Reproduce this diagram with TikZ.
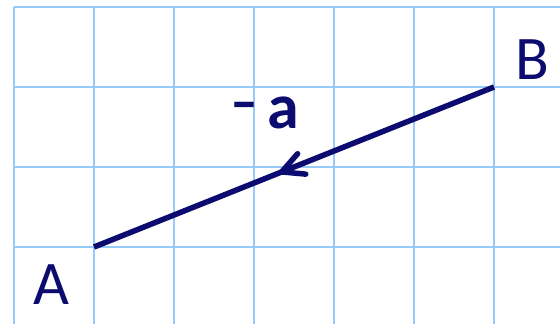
\documentclass[tikz,border=0pt]{standalone}
\usepackage{fontspec}
\usepackage{graphicx}
\setmainfont{Carlito}
\newfontfamily\djv{DejaVu Sans}
\usetikzlibrary{decorations.markings}
\definecolor{gridblue}{RGB}{150,202,250}
\definecolor{navy}{RGB}{12,12,112}
\tikzset{
  gridline/.style={draw=gridblue, line width=2.4pt},
  vec/.style={draw=navy, line width=5.5pt},
  barb/.style={draw=navy, line width=5.5pt, line cap=round, line join=round},
  lbl/.style={text=navy, inner sep=0pt, font=\fontsize{62}{62}\selectfont},
}
\begin{document}
\begin{tikzpicture}[x=1pt,y=1pt]
\useasboundingbox (0,0) rectangle (560,324);
\fill[white] (0,0) rectangle (560,324);
% grid
\foreach \x in {14,94,...,494} \draw[gridline] (\x,0) -- (\x,317);
\foreach \y in {77,157,237,317} \draw[gridline] (14,\y) -- (560,\y);
% points
\coordinate (A) at (94,77);
\coordinate (B) at (494,237);
% vector from B to A with arrow in the middle
\draw[vec, postaction={decorate}, decoration={markings,
  mark=at position 0.5307 with {\draw[barb] (-21.5,11) -- (0,0) -- (-21.5,-11);}}]
  (B) -- (A);
% labels
\node[lbl] (la) at (51.5,39) {A};
\node[lbl] (lb) at (532,264) {B};
\node[lbl, font=\djv\bfseries\fontsize{31}{31}\selectfont] (lm) at (244.5,213.5) {\scalebox{1}[1.5]{−}};
\node[lbl, anchor=base, font=\fontsize{64}{64}\selectfont\bfseries] (lv) at (283.5,195.5) {a};
\end{tikzpicture}
\end{document}
